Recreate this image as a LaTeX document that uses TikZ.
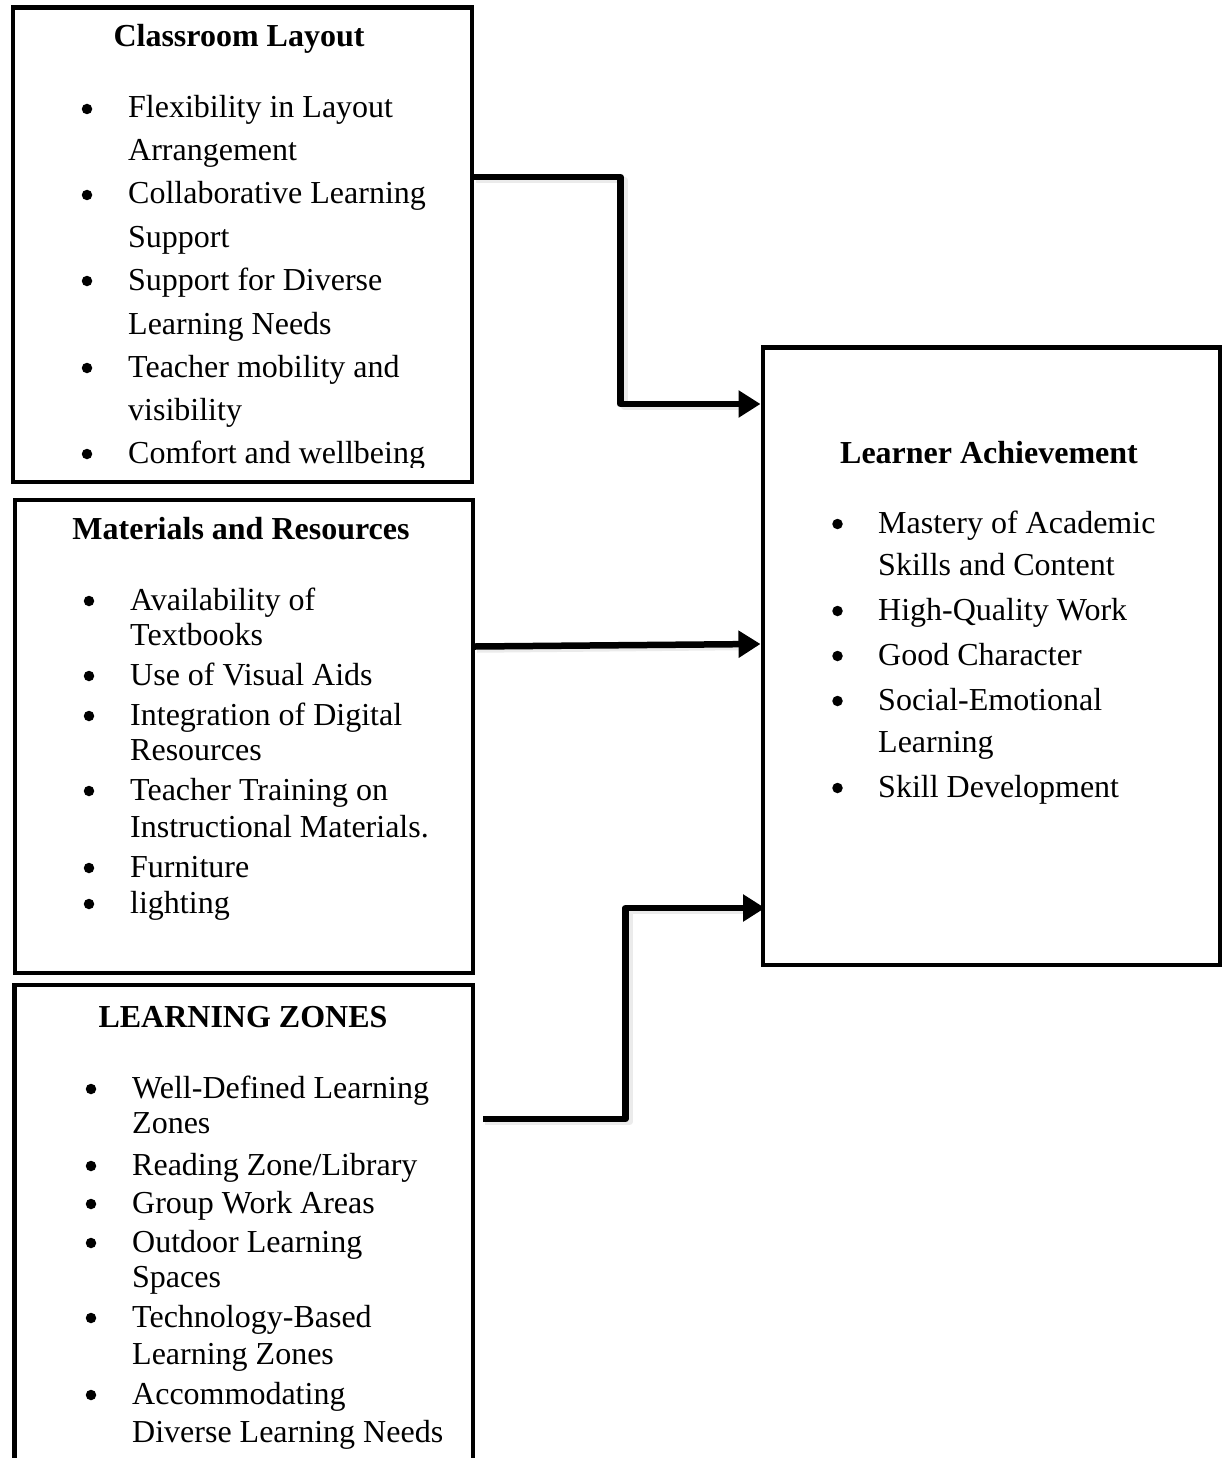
\documentclass[tikz,border=0pt]{standalone}
\usepackage{fontspec}
\setmainfont{Liberation Serif}
\usetikzlibrary{arrows.meta,calc}
\tikzset{
  boxframe/.style={draw=black, line width=4.5pt, inner sep=0pt, anchor=north west},
  ttl/.style={anchor=base, inner sep=0pt, font=\fontsize{32}{38}\selectfont\bfseries},
  txt/.style={anchor=base west, inner sep=0pt, font=\fontsize{32}{38}\selectfont},
  bul/.style={circle, fill=black, inner sep=0pt, minimum size=10.5pt},
  conn/.style={line width=6.5pt, line join=round, -{Triangle[length=22pt,width=26pt]}},
  connshadow/.style={line width=6.5pt, line join=round, draw=black!8},
}
\begin{document}
\begin{tikzpicture}[x=1pt,y=-1pt]
\useasboundingbox (0,0) rectangle (1221,1458);

% boxes
\node[boxframe, minimum width=459pt, minimum height=474pt] (b1) at (10.5,5.5) {};
\node[boxframe, minimum width=458pt, minimum height=473pt] (b2) at (12.5,497.5) {};
\node[inner sep=0pt, anchor=north west, minimum width=458pt, minimum height=480pt] (b3) at (14.5,985) {};
\draw[line width=4.5pt] (b3.south west) -- (b3.north west) -- (b3.north east) -- (b3.south east);
\node[boxframe, minimum width=457.5pt, minimum height=617.5pt] (b4) at (760.5,345) {};

% titles
\node[ttl] (t1) at (239,47) {Classroom Layout};
\node[ttl] (t2) at (241,539) {Materials and Resources};
\node[ttl] (t3) at (243,1027) {LEARNING ZONES};
\node[ttl] (t4) at (989,463) {Learner Achievement};

% box 1 text
\foreach \yy/\tx [count=\i] in {118/{Flexibility in Layout}, 161/{Arrangement},
  204/{Collaborative Learning}, 247/{Support}, 290/{Support for Diverse},
  334/{Learning Needs}, 377/{Teacher mobility and}, 420/{visibility}}
  \node[txt] (la\i) at (128,\yy) {\tx};
\begin{scope}
\clip (0,0) rectangle (1221,467);
\node[txt] (la9) at (128,463) {Comfort and wellbeing};
\end{scope}
\foreach \yy [count=\i] in {118,204,290,377,463}
  \node[bul] (ba\i) at (87,\yy-9) {};

% box 2 text
\foreach \yy/\tx [count=\i] in {610/{Availability of}, 645/{Textbooks},
  685/{Use of Visual Aids}, 725/{Integration of Digital}, 760/{Resources},
  800/{Teacher Training on}, 837/{Instructional Materials.}, 877/{Furniture},
  913/{lighting}}
  \node[txt] (lb\i) at (130,\yy) {\tx};
\foreach \yy [count=\i] in {610,685,725,800,877,913}
  \node[bul] (bb\i) at (89,\yy-9) {};

% box 3 text
\foreach \yy/\tx [count=\i] in {1098/{Well-Defined Learning}, 1133/{Zones},
  1175/{Reading Zone/Library}, 1213/{Group Work Areas}, 1252/{Outdoor Learning},
  1287/{Spaces}, 1327/{Technology-Based}, 1364/{Learning Zones},
  1404/{Accommodating}, 1442/{Diverse Learning Needs}}
  \node[txt] (lc\i) at (132,\yy) {\tx};
\foreach \yy [count=\i] in {1098,1175,1213,1252,1327,1404}
  \node[bul] (bc\i) at (91,\yy-9) {};

% box 4 text
\foreach \yy/\tx [count=\i] in {533/{Mastery of Academic}, 575/{Skills and Content},
  620/{High-Quality Work}, 665/{Good Character}, 710/{Social-Emotional},
  752/{Learning}, 797/{Skill Development}}
  \node[txt] (ld\i) at (878,\yy) {\tx};
\foreach \yy [count=\i] in {533,620,665,710,797}
  \node[bul] (bd\i) at (837.5,\yy-9) {};

% connectors: shadows
\draw[connshadow] ([xshift=2pt,yshift=-174.5pt]b1.north east) -- ++(148.5,0) |- ([xshift=-20pt,yshift=-62pt]b4.north west);
\draw[connshadow] ([xshift=2pt,yshift=-152pt]b2.north east) -- ([xshift=-20pt,yshift=-302pt]b4.north west);
\draw[connshadow] ([xshift=12.5pt,yshift=-137pt]b3.north east) -- ++(144,0) |- ([xshift=-16pt,yshift=-566pt]b4.north west);

% connectors
\draw[conn] ([yshift=-171.5pt]b1.north east) -- ++(146.5,0) |- ([yshift=-59pt]b4.north west);
\draw[conn] ([yshift=-149pt]b2.north east) -- ([yshift=-299pt]b4.north west);
\draw[conn] ([xshift=10.5pt,yshift=-134pt]b3.north east) -- ++(142,0) |- ([xshift=4.5pt,yshift=-563pt]b4.north west);
\end{tikzpicture}
\end{document}
